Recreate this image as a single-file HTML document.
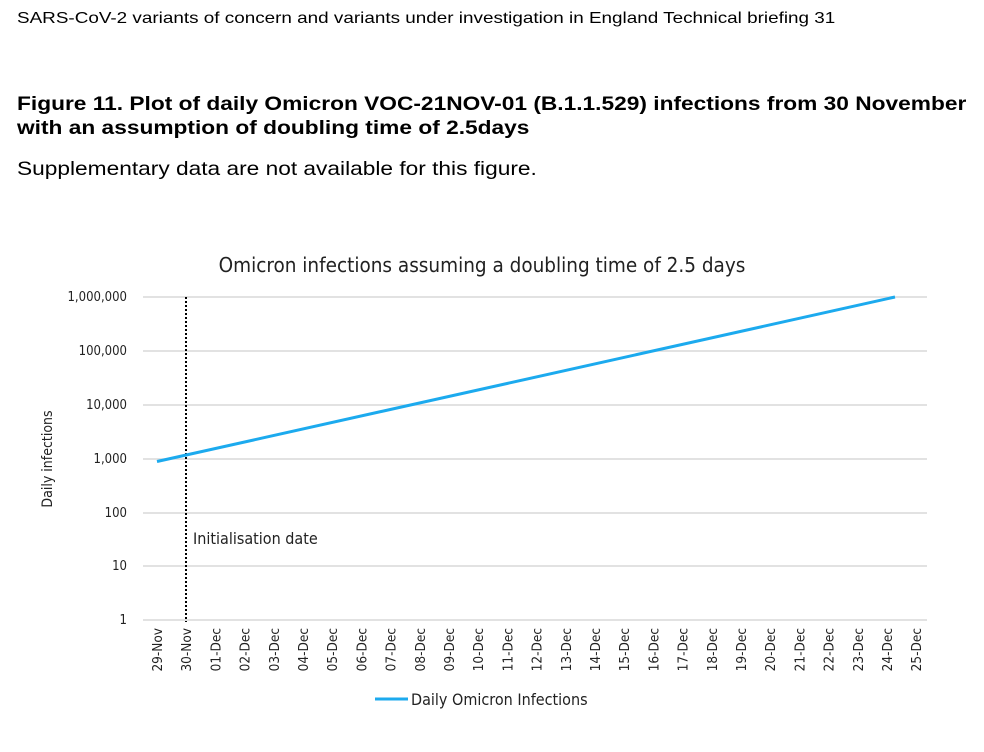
<!DOCTYPE html>
<html><head><style>
body{margin:0;background:#fff;width:984px;height:752px;overflow:hidden;font-family:"Liberation Sans",Arial,sans-serif;}
.t{position:absolute;left:17px;color:#000;transform-origin:0 0;white-space:nowrap;}
</style></head><body>
<div class="t" style="top:10px;font-size:16px;transform:scaleX(1.18);">SARS-CoV-2 variants of concern and variants under investigation in England Technical briefing 31</div>
<div class="t" style="top:92px;font-size:19.5px;font-weight:bold;line-height:24px;transform:scaleX(1.165);">Figure 11. Plot of daily Omicron VOC-21NOV-01 (B.1.1.529) infections from 30 November<br>with an assumption of doubling time of 2.5days</div>
<div class="t" style="top:158px;font-size:19.5px;transform:scaleX(1.164);">Supplementary data are not available for this figure.</div>
<svg style="position:absolute;left:0;top:0" width="984" height="752" font-family="'DejaVu Sans Condensed','Liberation Sans Narrow','Liberation Sans',sans-serif">
<text x="482" y="272" font-size="20.5" text-anchor="middle" fill="#222">Omicron infections assuming a doubling time of 2.5 days</text>
<g stroke="#d9d9d9" stroke-width="1.5">
<line x1="143" x2="927" y1="297" y2="297"/><line x1="143" x2="927" y1="351" y2="351"/>
<line x1="143" x2="927" y1="405" y2="405"/><line x1="143" x2="927" y1="459" y2="459"/>
<line x1="143" x2="927" y1="513" y2="513"/><line x1="143" x2="927" y1="566" y2="566"/>
<line x1="143" x2="927" y1="620" y2="620"/></g>
<g font-size="13" text-anchor="end" fill="#222">
<text x="127" y="301">1,000,000</text><text x="127" y="355">100,000</text><text x="127" y="409">10,000</text>
<text x="127" y="463">1,000</text><text x="127" y="517">100</text><text x="127" y="570">10</text><text x="127" y="624">1</text></g>
<text transform="translate(52,459) rotate(-90)" font-size="14" text-anchor="middle" fill="#222">Daily infections</text>
<line x1="186" x2="186" y1="297" y2="622" stroke="#000" stroke-width="2" stroke-dasharray="2,2"/>
<text x="193" y="544" font-size="16" fill="#222">Initialisation date</text>
<line x1="157" y1="461.5" x2="895" y2="297" stroke="#1caaee" stroke-width="3"/>
<g font-size="13.5" text-anchor="end" fill="#222" id="xl"></g>
<line x1="375" x2="408" y1="699" y2="699" stroke="#1caaee" stroke-width="3"/>
<text x="411" y="705" font-size="16" fill="#222">Daily Omicron Infections</text>
</svg>
<script>
var g=document.getElementById('xl'),s='';
var labs=['29-Nov','30-Nov'];for(var d=1;d<=25;d++)labs.push((d<10?'0':'')+d+'-Dec');
for(var i=0;i<27;i++){var x=157+i*29.2+5;s+='<text transform="translate('+x+',628) rotate(-90)">'+labs[i]+'</text>';}
g.innerHTML=s;
</script>
</body></html>
